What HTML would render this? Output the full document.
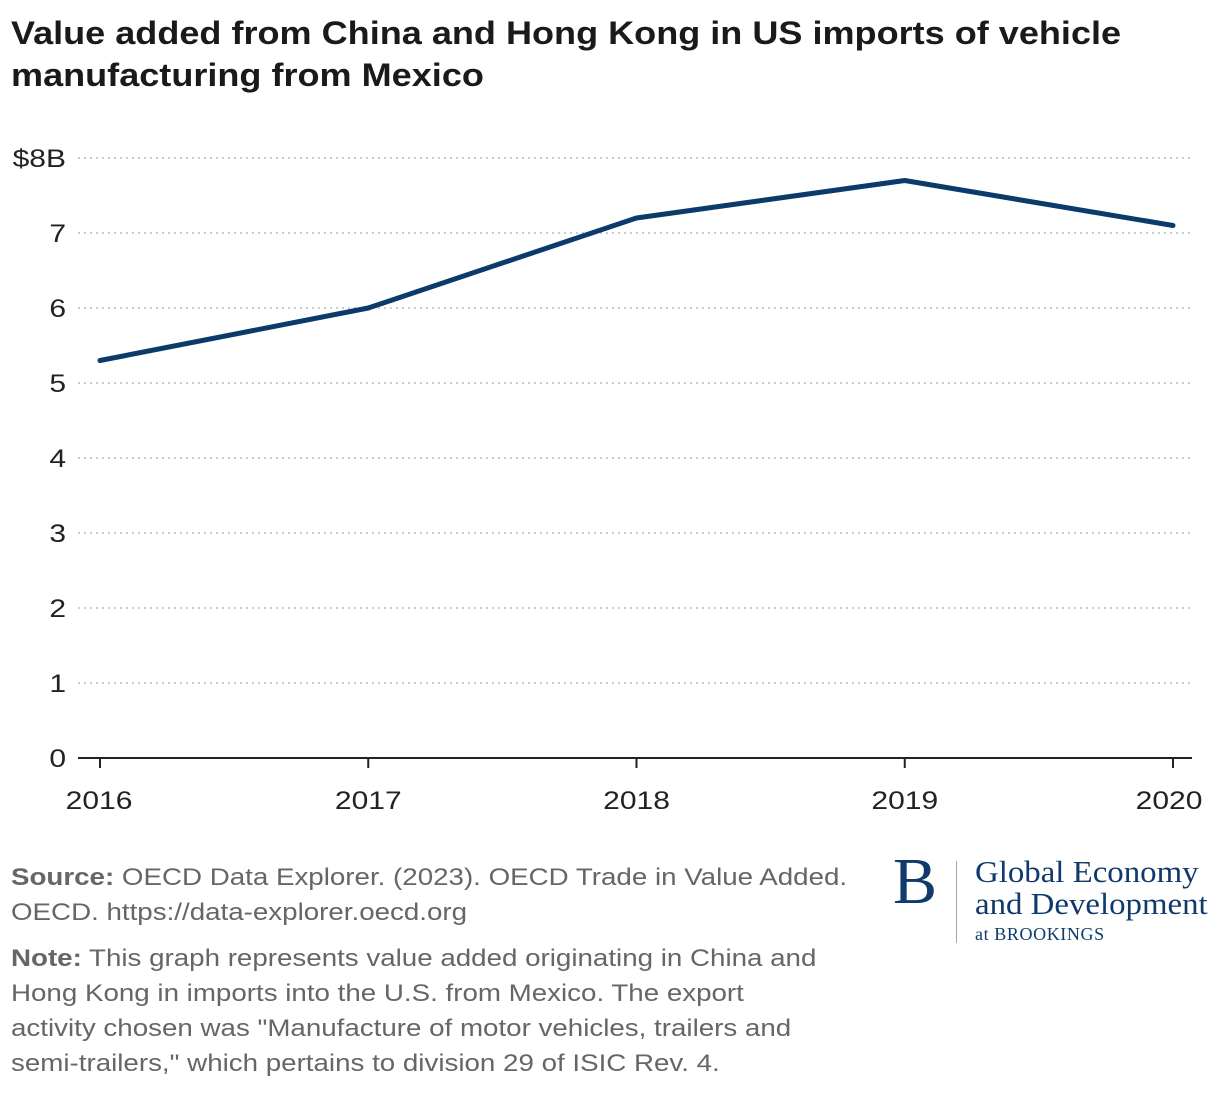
<!DOCTYPE html>
<html><head><meta charset="utf-8"><style>
body{margin:0;width:1220px;height:1098px;background:#fff;font-family:"Liberation Sans",sans-serif;position:relative;overflow:hidden}
#title{position:absolute;left:11px;top:12px;font-size:32px;font-weight:bold;color:#1a1a1a;line-height:42px;margin:0;transform:scaleX(1.127);transform-origin:0 0;white-space:nowrap}
.notes{position:absolute;left:11px;font-size:24px;color:#666;line-height:35px;transform:scaleX(1.155);transform-origin:0 0;white-space:nowrap}
.notes b{color:#666}
</style></head><body>
<h1 id="title">Value added from China and Hong Kong in US imports of vehicle<br>manufacturing from Mexico</h1>
<svg id="chart" width="1220" height="830" style="position:absolute;left:0;top:0"></svg>
<div class="notes" style="top:860px"><b>Source:</b> OECD Data Explorer. (2023). OECD Trade in Value Added.<br>OECD. https://data-explorer.oecd.org</div>
<div class="notes" style="top:941px"><b>Note:</b> This graph represents value added originating in China and<br>Hong Kong in imports into the U.S. from Mexico. The export<br>activity chosen was "Manufacture of motor vehicles, trailers and<br>semi-trailers," which pertains to division 29 of ISIC Rev. 4.</div>
<div style="position:absolute;left:893px;top:856px;color:#0f3a6b;font-family:'Liberation Serif',serif">
 <div style="position:absolute;left:0;top:-6px;font-size:66px;line-height:64px">B</div>
 <div style="position:absolute;left:63px;top:5px;width:1px;height:82px;background:#9aa8bb"></div>
 <div style="position:absolute;left:82px;top:0;font-size:31px;line-height:32px;white-space:nowrap;transform:scaleX(1.06);transform-origin:0 0">Global Economy<br>and Development</div>
 <div style="position:absolute;left:82px;top:68px;font-size:18px;white-space:nowrap;letter-spacing:0.6px">at BROOKINGS</div>
</div>
<script>
const years=["2016","2017","2018","2019","2020"];
const values=[5.3,6.0,7.2,7.7,7.1];
const yTicks=[0,1,2,3,4,5,6,7,8];
const yLabels=["0","1","2","3","4","5","6","7","$8B"];
const svg=document.getElementById('chart');
const NS='http://www.w3.org/2000/svg';
const x=i=>100+i*(1173-100)/(years.length-1);
const y=v=>758-v*75;
function mk(t,a){const e=document.createElementNS(NS,t);for(const k in a)e.setAttribute(k,a[k]);svg.appendChild(e);return e;}
yTicks.forEach((v,i)=>{
 if(v>0){const g=mk('line',{x1:78,x2:1192,y1:y(v),y2:y(v),stroke:'#bbb','stroke-width':1.5,'stroke-dasharray':'2,4'});
 
 }
 const t=mk('text',{x:0,y:0,transform:`translate(66,${y(v)+9}) scale(1.2,1)`,'text-anchor':'end','font-size':25,fill:'#222','font-family':'Liberation Sans, sans-serif'});
 t.textContent=yLabels[i];
 
 
});
const ax=mk('line',{x1:78,x2:1192,y1:758,y2:758,stroke:'#222','stroke-width':2});


years.forEach((yr,i)=>{
 const tk=mk('line',{x1:x(i),x2:x(i),y1:758,y2:768,stroke:'#222','stroke-width':2});
 
 
 let cx=x(i);
 if(i==0)cx=x(i)-1;
 if(i==years.length-1)cx=x(i)-4;
 const t=mk('text',{x:0,y:0,transform:`translate(${cx},${809}) scale(1.2,1)`,'text-anchor':'middle','font-size':25,fill:'#222','font-family':'Liberation Sans, sans-serif'});
 t.textContent=yr;
 
 
});
const p=mk('polyline',{points:values.map((v,i)=>x(i)+','+y(v)).join(' '),fill:'none',stroke:'#0b3a6b','stroke-width':5,'stroke-linejoin':'round','stroke-linecap':'round'});


</script>
</body></html>
